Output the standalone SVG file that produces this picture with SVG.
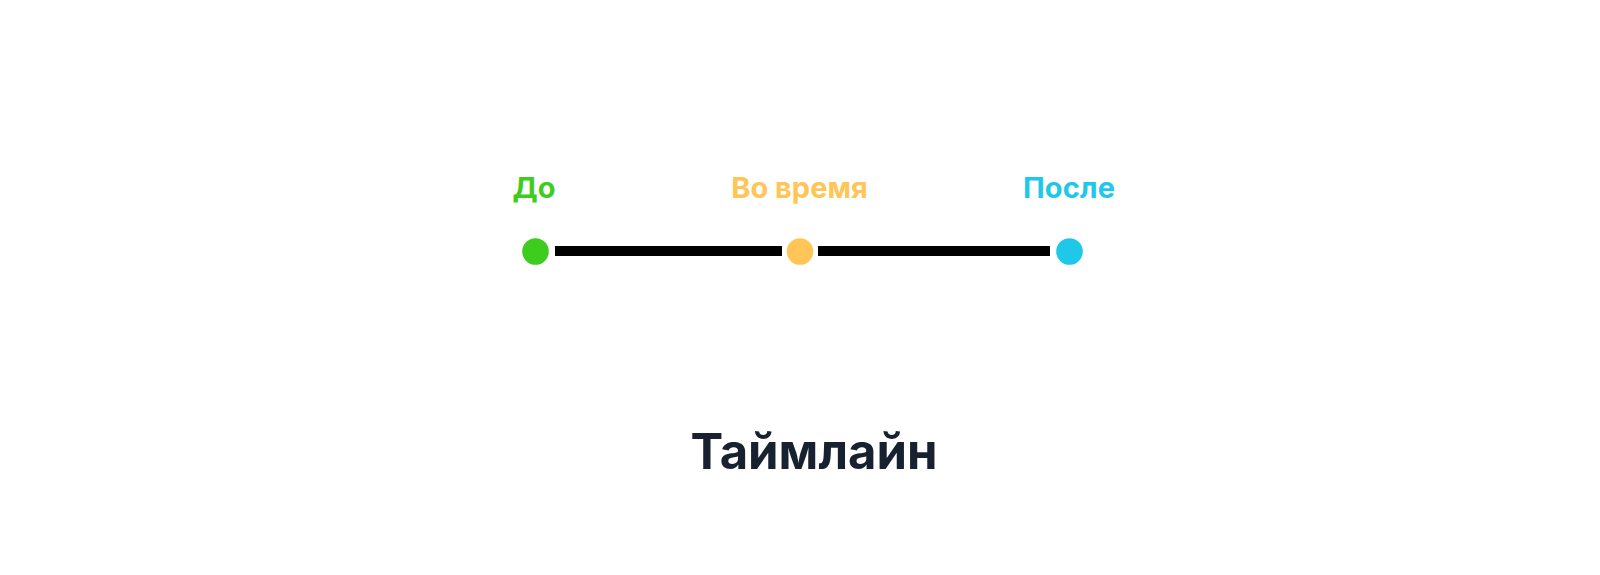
<svg xmlns="http://www.w3.org/2000/svg" width="1600" height="575" viewBox="0 0 1600 575">
<style>
.lbl{font-family:Inter,"Liberation Sans",sans-serif;font-weight:700;font-size:29px;text-anchor:middle}
.title{font-family:Inter,"Liberation Sans",sans-serif;font-weight:700;font-size:49px;text-anchor:middle;fill:#18212f}
.seg{stroke:#000;stroke-width:10;stroke-linecap:butt}
</style>
<rect width="1600" height="575" fill="#fff"/>
<g id="connectors">
<line class="seg" x1="555" y1="251" x2="782" y2="251"/>
<line class="seg" x1="818" y1="251" x2="1050" y2="251"/>
</g>
<g id="node-before">
<circle cx="535.5" cy="251.5" r="13.3" fill="#3ecd1e"/>
<text class="lbl" x="534" y="198" fill="#3ecd1e">До</text>
</g>
<g id="node-during">
<circle cx="800" cy="251.5" r="13.3" fill="#ffc557"/>
<text class="lbl" x="799.5" y="198" fill="#ffc557">Во время</text>
</g>
<g id="node-after">
<circle cx="1069.5" cy="251.5" r="13.3" fill="#1fc8e8"/>
<text class="lbl" x="1069" y="198" fill="#1fc8e8" textLength="92">После</text>
</g>
<g id="title">
<text class="title" x="814" y="469">Таймлайн</text>
</g>
</svg>
